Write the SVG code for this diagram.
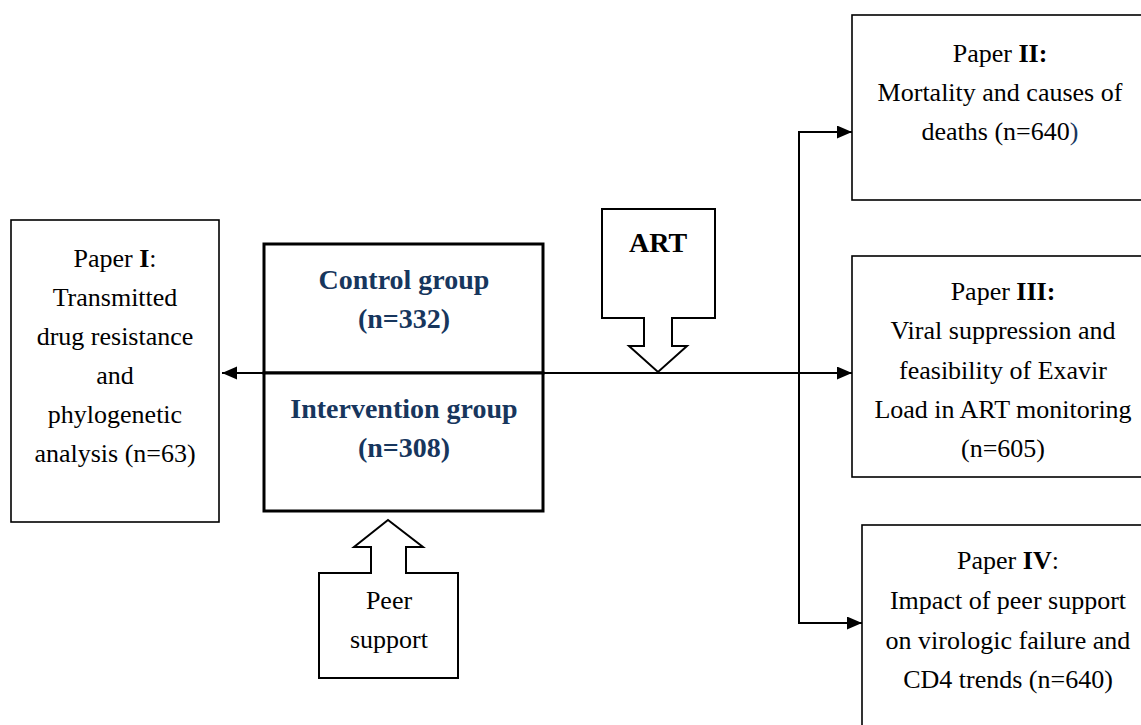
<svg xmlns="http://www.w3.org/2000/svg" width="1141" height="725" viewBox="0 0 1141 725">
<defs>
<style>
text{font-family:"Liberation Serif","Times New Roman",serif;font-size:26px;fill:#000;text-anchor:middle}
.b{font-weight:bold}
.grp{font-weight:bold;font-size:28px;fill:#17365D}
.box{fill:#fff;stroke:#000;stroke-width:1.6}
.thick{fill:#fff;stroke:#000;stroke-width:3}
.blk{fill:#fff;stroke:#000;stroke-width:2;stroke-linejoin:miter}
.con{fill:none;stroke:#000;stroke-width:2}
</style>
<marker id="ah" markerUnits="userSpaceOnUse" markerWidth="16" markerHeight="14" refX="15" refY="6.5" orient="auto">
<path d="M0,0 L15,6.5 L0,13 z" fill="#000"/>
</marker>
</defs>
<rect width="1141" height="725" fill="#fff"/>

<g id="paper1">
<rect class="box" x="11" y="220" width="208" height="302"/>
<text x="115" y="267">Paper <tspan class="b">I</tspan>:</text>
<text x="115" y="306">Transmitted</text>
<text x="115" y="345">drug resistance</text>
<text x="115" y="384">and</text>
<text x="115" y="423">phylogenetic</text>
<text x="115" y="462">analysis (n=63)</text>
</g>

<g id="control">
<rect class="thick" x="264" y="244" width="279" height="129"/>
<text class="grp" x="404" y="289">Control group</text>
<text class="grp" x="404" y="328">(n=332)</text>
</g>

<g id="intervention">
<rect class="thick" x="264" y="373" width="279" height="138"/>
<text class="grp" x="404" y="418">Intervention group</text>
<text class="grp" x="404" y="457">(n=308)</text>
</g>

<g id="connectors">
<path class="con" d="M264 373 L222 373" marker-end="url(#ah)"/>
<path class="con" d="M543 373 L852 373" marker-end="url(#ah)"/>
<path class="con" d="M799 373 L799 132 L852 132" marker-end="url(#ah)"/>
<path class="con" d="M799 373 L799 623 L862 623" marker-end="url(#ah)"/>
</g>

<g id="art">
<polygon class="blk" points="602,209 715,209 715,318 672,318 672,346 687,346 658,372 629,346 644,346 644,318 602,318"/>
<text class="b" style="font-size:28px" x="658" y="252">ART</text>
</g>

<g id="peer">
<polygon class="blk" points="319,573 371,573 371,547 354,547 388,520 423,547 406,547 406,573 458,573 458,678 319,678"/>
<text x="389" y="609">Peer</text>
<text x="389" y="648">support</text>
</g>

<g id="paper2">
<rect class="box" x="852" y="15" width="300" height="185"/>
<text x="1000" y="62">Paper <tspan class="b">II:</tspan></text>
<text x="1000" y="101">Mortality and causes of</text>
<text x="1000" y="140">deaths (n=640<tspan fill="#17365D">)</tspan></text>
</g>

<g id="paper3">
<rect class="box" x="852" y="256" width="300" height="221"/>
<text x="1003" y="300">Paper <tspan class="b">III:</tspan></text>
<text x="1003" y="339">Viral suppression and</text>
<text x="1003" y="379">feasibility of Exavir</text>
<text x="1003" y="418">Load in ART monitoring</text>
<text x="1003" y="457">(n=605)</text>
</g>

<g id="paper4">
<rect class="box" x="862" y="525" width="300" height="220"/>
<text x="1008" y="569">Paper <tspan class="b">IV</tspan>:</text>
<text x="1008" y="609">Impact of peer support</text>
<text x="1008" y="649">on virologic failure and</text>
<text x="1008" y="688">CD4 trends (n=640)</text>
</g>
</svg>
